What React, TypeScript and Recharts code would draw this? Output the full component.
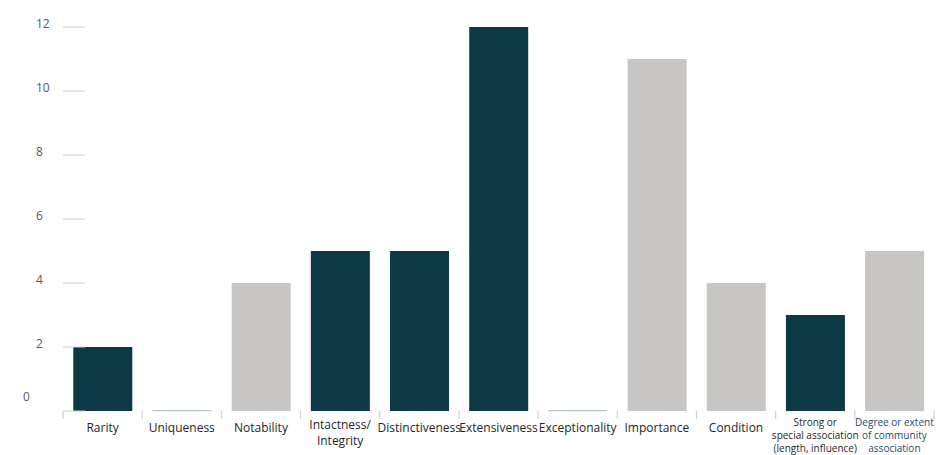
import React from 'react';
import { BarChart, Bar, XAxis, YAxis, Cell } from 'recharts';

const categories = [
  'Rarity',
  'Uniqueness',
  'Notability',
  'Intactness/\nIntegrity',
  'Distinctiveness',
  'Extensiveness',
  'Exceptionality',
  'Importance',
  'Condition',
  'Strong or\nspecial association\n(length, influence)',
  'Degree or extent\nof community\nassociation',
];
const values = [2, 0, 4, 5, 5, 12, 0, 11, 4, 3, 5];
const groups = ['dark', 'dark', 'grey', 'dark', 'dark', 'dark', 'dark', 'grey', 'grey', 'dark', 'grey'];
const yTicks = [0, 2, 4, 6, 8, 10, 12];

const DARK = '#0b3945';
const GREY = '#c7c6c4';
const ZERO = '#b3c3ca';
const FONT = '"Open Sans", "Noto Sans", sans-serif';

const data = categories.map((c, i) => ({ name: c, value: values[i], group: groups[i] }));

const BarShape = (props: any) => {
  const { x, y, width, height, fill, value } = props;
  if (!height || height <= 0 || value === 0) {
    return <rect x={x} y={y - 1} width={width} height={1.2} fill={ZERO} />;
  }
  return <rect x={x} y={y} width={width} height={height} fill={fill} />;
};

const YTick = (props: any) => {
  const { y, payload } = props;
  const v = payload.value;
  if (v === 0) {
    return (
      <g>
        <text x={23} y={y - 10} fill="#595959" fontSize={12} fontFamily={FONT}>0</text>
        <line x1={63} x2={85} y1={y} y2={y} stroke="#cfcfcf" strokeWidth={1} />
      </g>
    );
  }
  return (
    <g>
      <text x={36} y={y + 1} fill="#595959" fontSize={12} fontFamily={FONT}>{v}</text>
      <line x1={63} x2={85} y1={y} y2={y} stroke="#cfcfcf" strokeWidth={1} />
    </g>
  );
};

const XTick = (props: any) => {
  const { x, y, payload, index } = props;
  const half = payload.offset || 79.2 / 2;
  const lines = String(payload.value).split('\n');
  const small = lines.length === 3;
  const isLast = index === categories.length - 1;
  const fs = small ? 10 : 12;
  const lh = small ? 13 : 16;
  const startY = small ? 426 : lines.length === 2 ? 429 : 432;
  const base = y;
  return (
    <g>
      <line x1={x - half} x2={x - half} y1={base - 8} y2={base} stroke="#d0d0d0" strokeWidth={1.2} />
      {isLast && (
        <line x1={x + half} x2={x + half} y1={base - 8} y2={base} stroke="#d0d0d0" strokeWidth={1.2} />
      )}
      <text
        x={x}
        y={startY}
        textAnchor="middle"
        fill={isLast ? '#1f4a6e' : '#262626'}
        fontSize={fs}
        fontFamily={FONT}
      >
        {lines.map((l, i) => (
          <tspan key={i} x={x} dy={i === 0 ? 0 : lh}>{l}</tspan>
        ))}
      </text>
    </g>
  );
};

export default function App() {
  return (
    <div style={{ position: 'absolute', left: 0, top: 0, background: '#fff' }}>
      <BarChart
        width={939}
        height={455}
        data={data}
        margin={{ top: 27, right: 5, left: 0, bottom: 0 }}
        barCategoryGap="13%"
      >
        <XAxis
          dataKey="name"
          height={44}
          axisLine={false}
          tickLine={false}
          interval={0}
          tick={<XTick />}
        />
        <YAxis
          width={63}
          domain={[0, 12]}
          ticks={yTicks}
          axisLine={false}
          tickLine={false}
          interval={0}
          tick={<YTick />}
        />
        <Bar dataKey="value" isAnimationActive={false} shape={<BarShape />}>
          {data.map((d, i) => (
            <Cell key={i} fill={d.group === 'dark' ? DARK : GREY} />
          ))}
        </Bar>
      </BarChart>
    </div>
  );
}
